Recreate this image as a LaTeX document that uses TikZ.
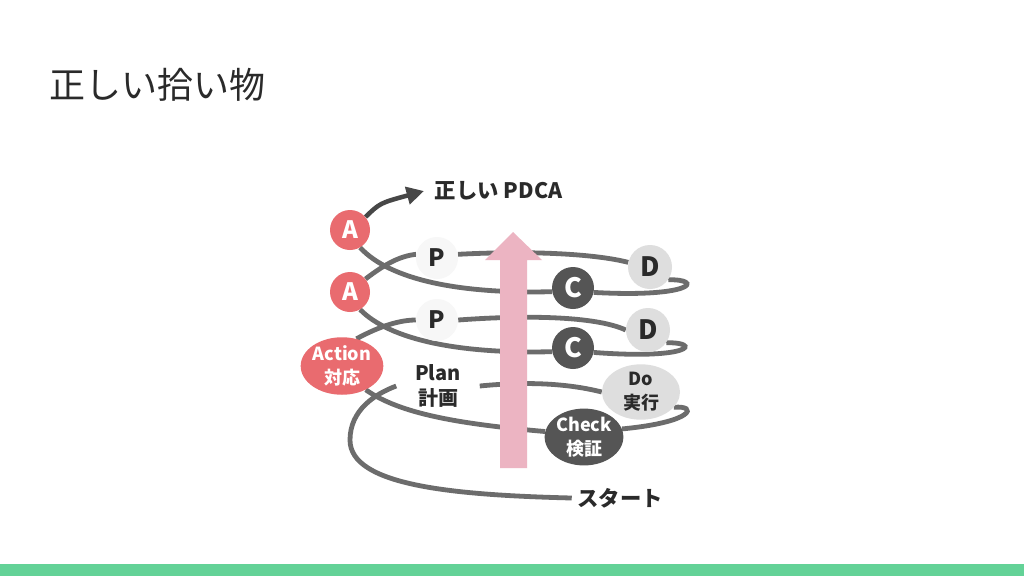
\documentclass[tikz,border=0pt]{standalone}
\usepackage{fontspec}
\newfontfamily\jp{Noto Sans CJK JP}
\usetikzlibrary{arrows.meta,shapes.geometric}
\definecolor{redA}{HTML}{E96B6F}
\definecolor{darkC}{HTML}{555555}
\definecolor{lightD}{HTML}{DEDEDE}
\definecolor{lineG}{HTML}{6C6C6C}
\definecolor{pinkU}{HTML}{ECB4C2}
\definecolor{barG}{HTML}{63D297}
\definecolor{txt}{HTML}{2A2A2A}
\pgfdeclarelayer{bg}
\pgfsetlayers{bg,main}
\tikzset{
  redc/.style={circle, fill=redA, text=white, minimum size=30pt, inner sep=0pt, font=\jp\bfseries\fontsize{18}{20}\selectfont},
  pnode/.style={circle, fill=black!3, text=txt, minimum size=31.5pt, inner sep=0pt, font=\jp\bfseries\fontsize{18}{20}\selectfont},
  dnode/.style={circle, fill=lightD, text=txt, minimum size=33pt, inner sep=0pt, font=\jp\bfseries\fontsize{20}{22}\selectfont},
  cnode/.style={circle, fill=darkC, text=white, minimum size=31.5pt, inner sep=0pt, font=\jp\bfseries\fontsize{20}{22}\selectfont},
  ell/.style={ellipse, inner sep=0pt, align=center, font=\jp\bfseries\fontsize{13.5}{18}\selectfont},
  spiral/.style={draw=lineG, line width=3.6pt},
  lbl/.style={text=txt, font=\jp\bfseries\fontsize{16}{18}\selectfont, inner sep=0pt}
}
\begin{document}
\begin{tikzpicture}[x=0.75pt,y=-0.75pt]
\useasboundingbox (0,0) rectangle (1024,576);
\fill[barG] (0,564) rectangle (1024,576);

\node[text=txt, font=\jp\fontsize{27}{30}\selectfont, anchor=west] (title) at (45,85) {正しい拾い物};

% nodes
\node[lbl, anchor=west, inner xsep=8pt] (pdca) at (424,191) {正しい PDCA};
\node[redc] (A1) at (350,230) {A};
\node[redc] (A2) at (350,292) {A};
\node[ell, fill=redA, text=white, minimum width=60pt, minimum height=42pt] (act) at (342,366) {Action\\対応};
\node[pnode] (P1) at (437,258) {P};
\node[pnode] (P2) at (437,320) {P};
\node[align=center, text=txt, font=\jp\bfseries\fontsize{15}{19}\selectfont, inner xsep=14pt, inner ysep=2pt] (plan) at (438,386) {Plan\\計画};
\node[dnode] (D1) at (650,267) {D};
\node[dnode] (D2) at (648,330) {D};
\node[cnode] (C1) at (573,288) {C};
\node[cnode] (C2) at (573,348) {C};
\node[ell, fill=lightD, text=txt, minimum width=58.5pt, minimum height=37.5pt] (do) at (641,392) {Do\\実行};
\node[ell, fill=darkC, text=white, minimum width=57pt, minimum height=37.5pt] (chk) at (584,437) {Check\\検証};
\node[lbl, inner xsep=4pt] (start) at (620,498) {スタート};

\begin{pgfonlayer}{bg}
\fill[white] (0,0) rectangle (1024,564);
% loop 1
\draw[spiral] (start.west) .. controls (450,495) and (350,485) .. (350,440)
   .. controls (350,410) and (375,394) .. (plan.west);
\draw[spiral] (plan.east) .. controls (530,381) and (570,384) .. (do.west);
\draw[spiral] (do.-25) .. controls (698,405) and (695,422) .. (chk.12);
\draw[spiral] (chk.172) .. controls (460,424) and (400,414) .. (act.-45);
% loop 2
\draw[spiral] (act.62) .. controls (380,326) and (400,320) .. (P2.west);
\draw[spiral] (P2.east) .. controls (540,314) and (600,318) .. (D2.west);
\draw[spiral] (D2.-35) .. controls (702,342) and (692,360) .. (C2.-12);
\draw[spiral] (C2.190) .. controls (460,354) and (390,340) .. (A2.-60);
% loop 3
\draw[spiral] (A2.40) .. controls (385,264) and (400,256) .. (P1.170);
\draw[spiral] (P1.10) .. controls (540,250) and (600,255) .. (D1.168);
\draw[spiral] (D1.-35) .. controls (704,279) and (694,298) .. (C1.-12);
\draw[spiral] (C1.190) .. controls (460,294) and (390,280) .. (A1.-60);
\end{pgfonlayer}

% top arrow
\draw[draw=black!72, line width=3.4pt, -{Triangle[length=13pt,width=13pt]}]
  (A1.40) .. controls (380,203) .. (pdca.west);

% pink arrow
\fill[pinkU] (500,468) -- (500,260) -- (485,260) -- (513,232) -- (542,260) -- (527,260) -- (527,468) -- cycle;
\end{tikzpicture}
\end{document}
